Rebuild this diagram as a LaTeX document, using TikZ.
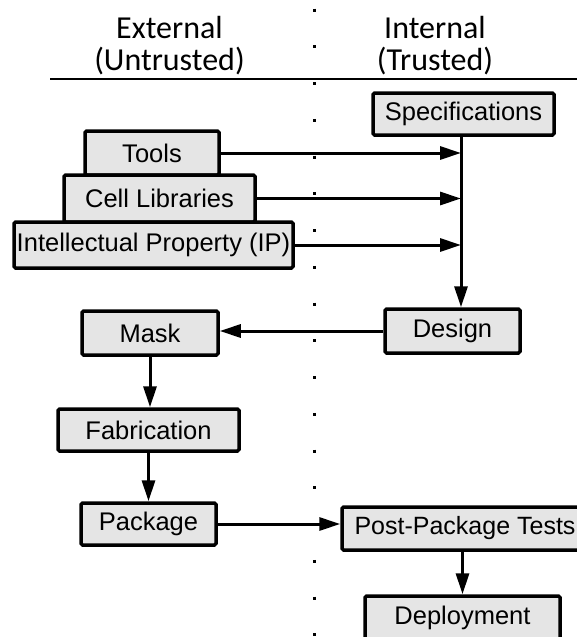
\documentclass[tikz,border=0pt]{standalone}
\usepackage{fontspec}
\setmainfont{Liberation Sans}
\newfontfamily\headfont{Carlito}
\usetikzlibrary{arrows.meta}
\definecolor{boxgray}{gray}{0.9}
\tikzstyle{stage} = [rectangle, draw=black, line width=3.5pt, fill=boxgray, rounded corners=1.5pt, text centered, inner sep=0pt, font=\fontsize{25.5}{30}\selectfont]
\tikzstyle{side} = [align=center, font=\headfont\fontsize{32}{32}\selectfont]
\tikzstyle{arrow} = [line width=3pt, -{Triangle[length=21pt,width=13pt]}]

\begin{document}
\begin{tikzpicture}[x=1pt, y=1pt, node distance=46pt]
\useasboundingbox (0,0) rectangle (577,-637);
\clip (0,0) rectangle (577,-637);
% headings
\node (ext) [side] at (169.5,-46) {External\\(Untrusted)};
\node (int) [side] at (435,-46) {Internal\\(Trusted)};
\draw [line width=2.5pt] (50,-79) -- (577,-79);
% border between the two sides
\draw [line width=3pt, dash pattern=on 3pt off 33.76pt] (314,-8.5) -- (314,-637);
% inputs
\node (spec) [stage, minimum width=181pt, minimum height=42pt] at (463.5,-114) {Specifications};
\node (tools) [stage, minimum width=134pt, minimum height=44pt] at (152,-153) {Tools};
\node (cells) [stage, minimum width=191pt, minimum height=47pt] at (159.5,-198.5) {Cell Libraries};
\node (ip) [stage, minimum width=279pt, minimum height=46pt] at (153.5,-245) {Intellectual Property (IP)};
\coordinate (trunk) at (461,-114);
% flow
\node (design) [stage, minimum width=135pt, minimum height=44pt] at (452.5,-331) {Design};
\node (mask) [stage, minimum width=136pt, minimum height=44pt] at (150,-333) {Mask};
\node (fab) [stage, below of=mask, node distance=97pt, xshift=-1.5pt, minimum width=181pt, minimum height=42pt] {Fabrication};
\node (pack) [stage, below of=fab, node distance=94pt, minimum width=135pt, minimum height=42pt] {Package};
\node (ppt) [stage, minimum width=246pt, minimum height=43pt, font=\fontsize{25}{30}\selectfont] at (465,-528.5) {Post-Package Tests};
\node (deploy) [stage, minimum width=195pt, minimum height=44pt] at (462.5,-618) {Deployment};
\draw [arrow] (tools.east) -- (tools.east -| trunk);
\draw [arrow] (cells.east) -- (cells.east -| trunk);
\draw [arrow] (ip.east) -- (ip.east -| trunk);
\draw [arrow] (spec.south -| trunk) -- (design.north -| trunk);
\draw [arrow] (design.west) -- (design.west -| mask.east);
\draw [arrow] (mask.south) -- (mask.south |- fab.north);
\draw [arrow] (fab.south) -- (pack.north);
\draw [arrow] (pack.east) -- (pack.east -| ppt.west);
\draw [arrow] (ppt.south -| deploy.north) -- (deploy.north);
\end{tikzpicture}
\end{document}
